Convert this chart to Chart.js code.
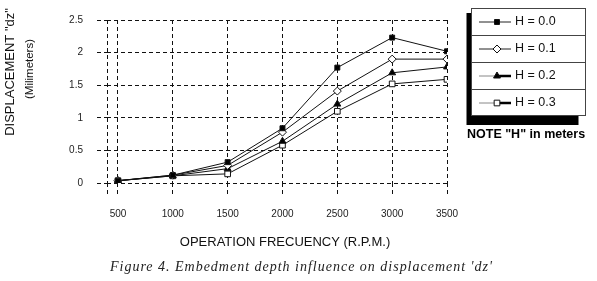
<!DOCTYPE html>
<html><head><meta charset="utf-8">
<script src="https://cdn.jsdelivr.net/npm/chart.js@4/dist/chart.umd.min.js"></script>
<style>html,body{margin:0;padding:0;background:#fff;overflow:hidden}canvas{display:block}</style>
</head><body>
<canvas id="c" width="597" height="281"></canvas>
<script>
// ---- data ----
const frequencies = [500, 1000, 1500, 2000, 2500, 3000, 3500];
const xAxisMin = 400;
const xTickValues = [400, 500, 1000, 1500, 2000, 2500, 3000, 3500];
const xTickLabels = ['', '500', '1000', '1500', '2000', '2500', '3000', '3500'];
const yTickLabels = ['0', '0.5', '1', '1.5', '2', '2.5'];
const seriesNames = ['H = 0.0', 'H = 0.1', 'H = 0.2', 'H = 0.3'];
const h00 = [0.035, 0.12, 0.32, 0.84, 1.77, 2.23, 2.02];
const h01 = [0.035, 0.12, 0.27, 0.78, 1.41, 1.90, 1.90];
const h02 = [0.035, 0.11, 0.22, 0.64, 1.21, 1.69, 1.78];
const h03 = [0.035, 0.11, 0.14, 0.58, 1.10, 1.52, 1.59];
const yTitle = 'DISPLACEMENT "dz"';
const yUnit = '(Milimeters)';
const xTitle = 'OPERATION FRECUENCY (R.P.M.)';
const note = 'NOTE "H" in meters';
const caption = "Figure 4. Embedment depth influence on displacement 'dz'";

const styles = [
  {pointStyle: 'rect', pointRadius: 3.5, fill: '#000', legendSplit: false},
  {pointStyle: 'rectRot', pointRadius: 4, fill: '#fff', legendSplit: false},
  {pointStyle: 'triangle', pointRadius: 4, fill: '#000', legendSplit: true},
  {pointStyle: 'rect', pointRadius: 4, fill: '#fff', legendSplit: true}
];
const allSeries = [h00, h01, h02, h03];

const datasets = allSeries.map((vals, i) => ({
  label: seriesNames[i],
  data: vals.map((v, j) => ({x: frequencies[j], y: v})),
  borderColor: '#111',
  borderWidth: 1,
  pointStyle: styles[i].pointStyle,
  pointRadius: styles[i].pointRadius,
  pointBackgroundColor: styles[i].fill,
  pointBorderColor: '#111',
  pointBorderWidth: 1,
  tension: 0,
  fill: false
}));

const FONT = '"Liberation Sans", Arial, sans-serif';

const decor = {
  id: 'decor',
  afterDraw(chart) {
    const ctx = chart.ctx;
    ctx.save();
    ctx.fillStyle = '#111';
    ctx.textAlign = 'center';
    ctx.textBaseline = 'middle';
    ctx.save();
    ctx.translate(10, 72);
    ctx.rotate(-Math.PI / 2);
    ctx.font = '13px ' + FONT;
    ctx.fillText(yTitle, 0, 0);
    ctx.restore();
    ctx.save();
    ctx.translate(30, 69);
    ctx.rotate(-Math.PI / 2);
    ctx.font = '11.5px ' + FONT;
    ctx.fillText(yUnit, 0, 0);
    ctx.restore();
    ctx.font = '13px ' + FONT;
    ctx.fillText(xTitle, 285, 242);
    ctx.font = 'italic 14px "Liberation Serif", "Times New Roman", serif';
    ctx.textAlign = 'left';
    const w = ctx.measureText(caption).width;
    const target = 382;
    const ls = (target - w) / (caption.length - 1);
    ctx.letterSpacing = ls + 'px';
    ctx.fillStyle = '#222';
    ctx.fillText(caption, 110, 267);
    ctx.letterSpacing = '0px';

    // Legend
    const bx = 471, by = 8, bw = 115, bh = 108, rh = 27;
    ctx.fillStyle = '#000';
    ctx.fillRect(bx - 4.5, by + 5, bw - 3, bh + 4);
    ctx.fillStyle = '#fff';
    ctx.fillRect(bx, by, bw, bh);
    ctx.strokeStyle = '#444';
    ctx.lineWidth = 1;
    ctx.strokeRect(bx + 0.5, by + 0.5, bw - 1, bh - 1);
    for (let i = 1; i < 4; i++) {
      ctx.beginPath();
      ctx.moveTo(bx, by + rh * i + 0.5);
      ctx.lineTo(bx + bw, by + rh * i + 0.5);
      ctx.stroke();
    }
    chart.data.datasets.forEach((ds, i) => {
      const cy = by + rh * i + rh / 2 + 0.5;
      const x1 = 479, xm = 497, x2 = 511;
      if (styles[i].legendSplit) {
        ctx.strokeStyle = '#888';
        ctx.lineWidth = 1;
        ctx.beginPath(); ctx.moveTo(x1, cy); ctx.lineTo(xm, cy); ctx.stroke();
        ctx.strokeStyle = '#000';
        ctx.lineWidth = 2.5;
        ctx.beginPath(); ctx.moveTo(xm, cy); ctx.lineTo(x2, cy); ctx.stroke();
      } else {
        ctx.strokeStyle = '#222';
        ctx.lineWidth = 1;
        ctx.beginPath(); ctx.moveTo(x1, cy); ctx.lineTo(x2, cy); ctx.stroke();
      }
      ctx.fillStyle = styles[i].fill;
      ctx.strokeStyle = '#111';
      ctx.lineWidth = 1;
      Chart.helpers.drawPoint(ctx, {pointStyle: styles[i].pointStyle, radius: styles[i].pointRadius, rotation: 0, borderWidth: 1}, xm, cy);
      ctx.fillStyle = '#111';
      ctx.font = '12.5px ' + FONT;
      ctx.textAlign = 'left';
      ctx.textBaseline = 'middle';
      ctx.fillText(ds.label, 515, cy);
    });
    ctx.font = 'bold 12.5px ' + FONT;
    ctx.fillStyle = '#000';
    ctx.textAlign = 'left';
    ctx.textBaseline = 'middle';
    ctx.fillText(note, 467, 135);
    ctx.restore();
  }
};

new Chart(document.getElementById('c'), {
  type: 'line',
  data: {datasets},
  options: {
    responsive: false,
    animation: false,
    devicePixelRatio: 1,
    layout: {padding: {left: 0, right: 150, top: 6, bottom: 0}},
    plugins: {legend: {display: false}, tooltip: {enabled: false}, title: {display: false}},
    scales: {
      x: {
        type: 'linear',
        min: xAxisMin,
        max: frequencies[frequencies.length - 1],
        afterBuildTicks(scale) { scale.ticks = xTickValues.map(v => ({value: v})); },
        afterFit(scale) { scale.height = 98; },
        ticks: {
          autoSkip: false, maxRotation: 0, padding: 11,
          color: '#222', font: {family: FONT, size: 10},
          callback(v) { const k = xTickValues.indexOf(v); return k >= 0 ? xTickLabels[k] : ''; }
        },
        grid: {color: '#111', lineWidth: 1, tickLength: 14, tickBorderDash: [4, 3], tickColor: '#111'},
        border: {display: false, dash: [4, 3]}
      },
      y: {
        type: 'linear',
        min: 0, max: 2.5,
        afterFit(scale) { scale.width = 107; },
        ticks: {
          stepSize: 0.5, padding: 14,
          color: '#222', font: {family: FONT, size: 10},
          callback(v, idx) { return yTickLabels[idx]; }
        },
        grid: {color: '#111', lineWidth: 1, tickLength: 10, tickBorderDash: [4, 3], tickColor: '#111'},
        border: {display: false, dash: [4, 3]}
      }
    }
  },
  plugins: [decor]
});
</script>
</body></html>
